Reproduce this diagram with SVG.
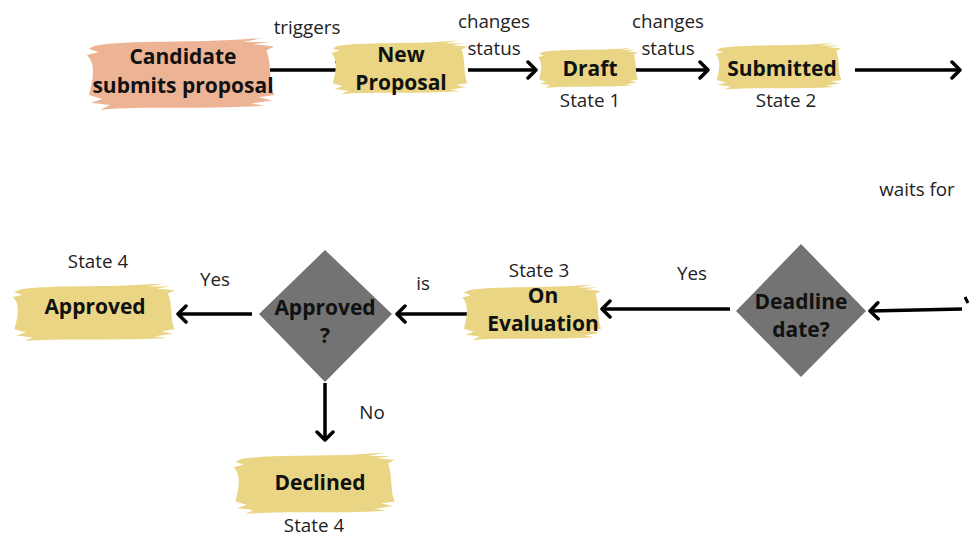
<svg xmlns="http://www.w3.org/2000/svg" xmlns:xlink="http://www.w3.org/1999/xlink" width="970" height="538" viewBox="0 0 970 538">
<style>
.lbl{font-family:"Open Sans","Noto Sans","Liberation Sans",sans-serif;font-size:18.8px;fill:#222;text-anchor:middle}
.nt{font-family:"Open Sans","Noto Sans","Liberation Sans",sans-serif;font-size:21px;font-weight:bold;fill:#111;text-anchor:middle}
.y{fill:#E9D584}
.s{fill:#EDB395}
.dia{fill:#737373}
.con{stroke:#000;stroke-width:3.5;fill:none}
</style>
<defs>
<path id="brush" d="M5,14 C22,6 58,11 86,5 L92,4 L82,9 L96,9 L87,12 L98,15 L94,20 C97,40 95,60 98,78 L90,81 L97,85 L86,89 L93,92 C62,97 30,92 8,97 L13,91 L3,88 L9,83 L2,78 C4,60 6,38 1,26 L7,22 L2,18 Z"/>
<marker id="ah" viewBox="0 0 12 20" refX="10" refY="10" markerWidth="12" markerHeight="20" markerUnits="userSpaceOnUse" orient="auto">
<path d="M2,2 L10,10 L2,18" stroke="#000" stroke-width="3.5" fill="none" stroke-linecap="round" stroke-linejoin="round"/>
</marker>
</defs>
<g id="connectors">
<line class="con" x1="270" y1="70" x2="345" y2="70" marker-end="url(#ah)"/>
<line class="con" x1="468" y1="70" x2="536" y2="70" marker-end="url(#ah)"/>
<line class="con" x1="634" y1="70" x2="708" y2="70" marker-end="url(#ah)"/>
<line class="con" x1="855" y1="70" x2="960" y2="70" marker-end="url(#ah)"/>
<line class="con" x1="962" y1="309" x2="870" y2="311" marker-end="url(#ah)"/>
<path d="M965,297 L968,303" stroke="#000" stroke-width="3" fill="none"/>
<line class="con" x1="730" y1="309" x2="602" y2="309" marker-end="url(#ah)"/>
<line class="con" x1="473" y1="314" x2="397" y2="314" marker-end="url(#ah)"/>
<line class="con" x1="252" y1="314" x2="178" y2="314" marker-end="url(#ah)"/>
<line class="con" x1="325" y1="383" x2="325" y2="440" marker-end="url(#ah)"/>
<text class="lbl" x="307" y="34">triggers</text>
<text class="lbl" x="494" y="28">changes</text>
<text class="lbl" x="494" y="55">status</text>
<text class="lbl" x="668" y="28">changes</text>
<text class="lbl" x="668" y="55">status</text>
<text class="lbl" x="917" y="196">waits for</text>
<text class="lbl" x="692" y="280">Yes</text>
<text class="lbl" x="423" y="290">is</text>
<text class="lbl" x="215" y="286">Yes</text>
<text class="lbl" x="372" y="419">No</text>
</g>
<g id="candidate">
<use xlink:href="#brush" class="s" transform="translate(85,35) scale(1.93,0.77)"/>
<text class="nt" x="183" y="64">Candidate</text>
<text class="nt" x="183" y="93">submits proposal</text>
</g>
<g id="new-proposal">
<use xlink:href="#brush" class="y" transform="translate(330,38) scale(1.4,0.58)"/>
<text class="nt" x="401" y="62">New</text>
<text class="nt" x="401" y="90">Proposal</text>
</g>
<g id="draft">
<use xlink:href="#brush" class="y" transform="translate(537,46) scale(1.03,0.43)"/>
<text class="nt" x="590" y="76">Draft</text>
<text class="lbl" x="590" y="107">State 1</text>
</g>
<g id="submitted">
<use xlink:href="#brush" class="y" transform="translate(714,41) scale(1.3,0.5)"/>
<text class="nt" x="782" y="76">Submitted</text>
<text class="lbl" x="786" y="107">State 2</text>
</g>
<g id="deadline">
<polygon class="dia" points="801,244 866,311 801,377 736,311"/>
<text class="nt" x="801" y="309">Deadline</text>
<text class="nt" x="801" y="337">date?</text>
</g>
<g id="on-evaluation">
<use xlink:href="#brush" class="y" transform="translate(461,282) scale(1.43,0.6)"/>
<text class="lbl" x="539" y="277">State 3</text>
<text class="nt" x="543" y="303">On</text>
<text class="nt" x="543" y="331">Evaluation</text>
</g>
<g id="approved-q">
<polygon class="dia" points="325,250 392,314 325,382 259,314"/>
<text class="nt" x="325" y="315">Approved</text>
<text class="nt" x="325" y="343">?</text>
</g>
<g id="approved">
<use xlink:href="#brush" class="y" transform="translate(11,281) scale(1.67,0.62)"/>
<text class="lbl" x="98" y="268">State 4</text>
<text class="nt" x="95" y="314">Approved</text>
</g>
<g id="declined">
<use xlink:href="#brush" class="y" transform="translate(232,450) scale(1.66,0.66)"/>
<text class="nt" x="320" y="490">Declined</text>
<text class="lbl" x="314" y="532">State 4</text>
</g>
</svg>
